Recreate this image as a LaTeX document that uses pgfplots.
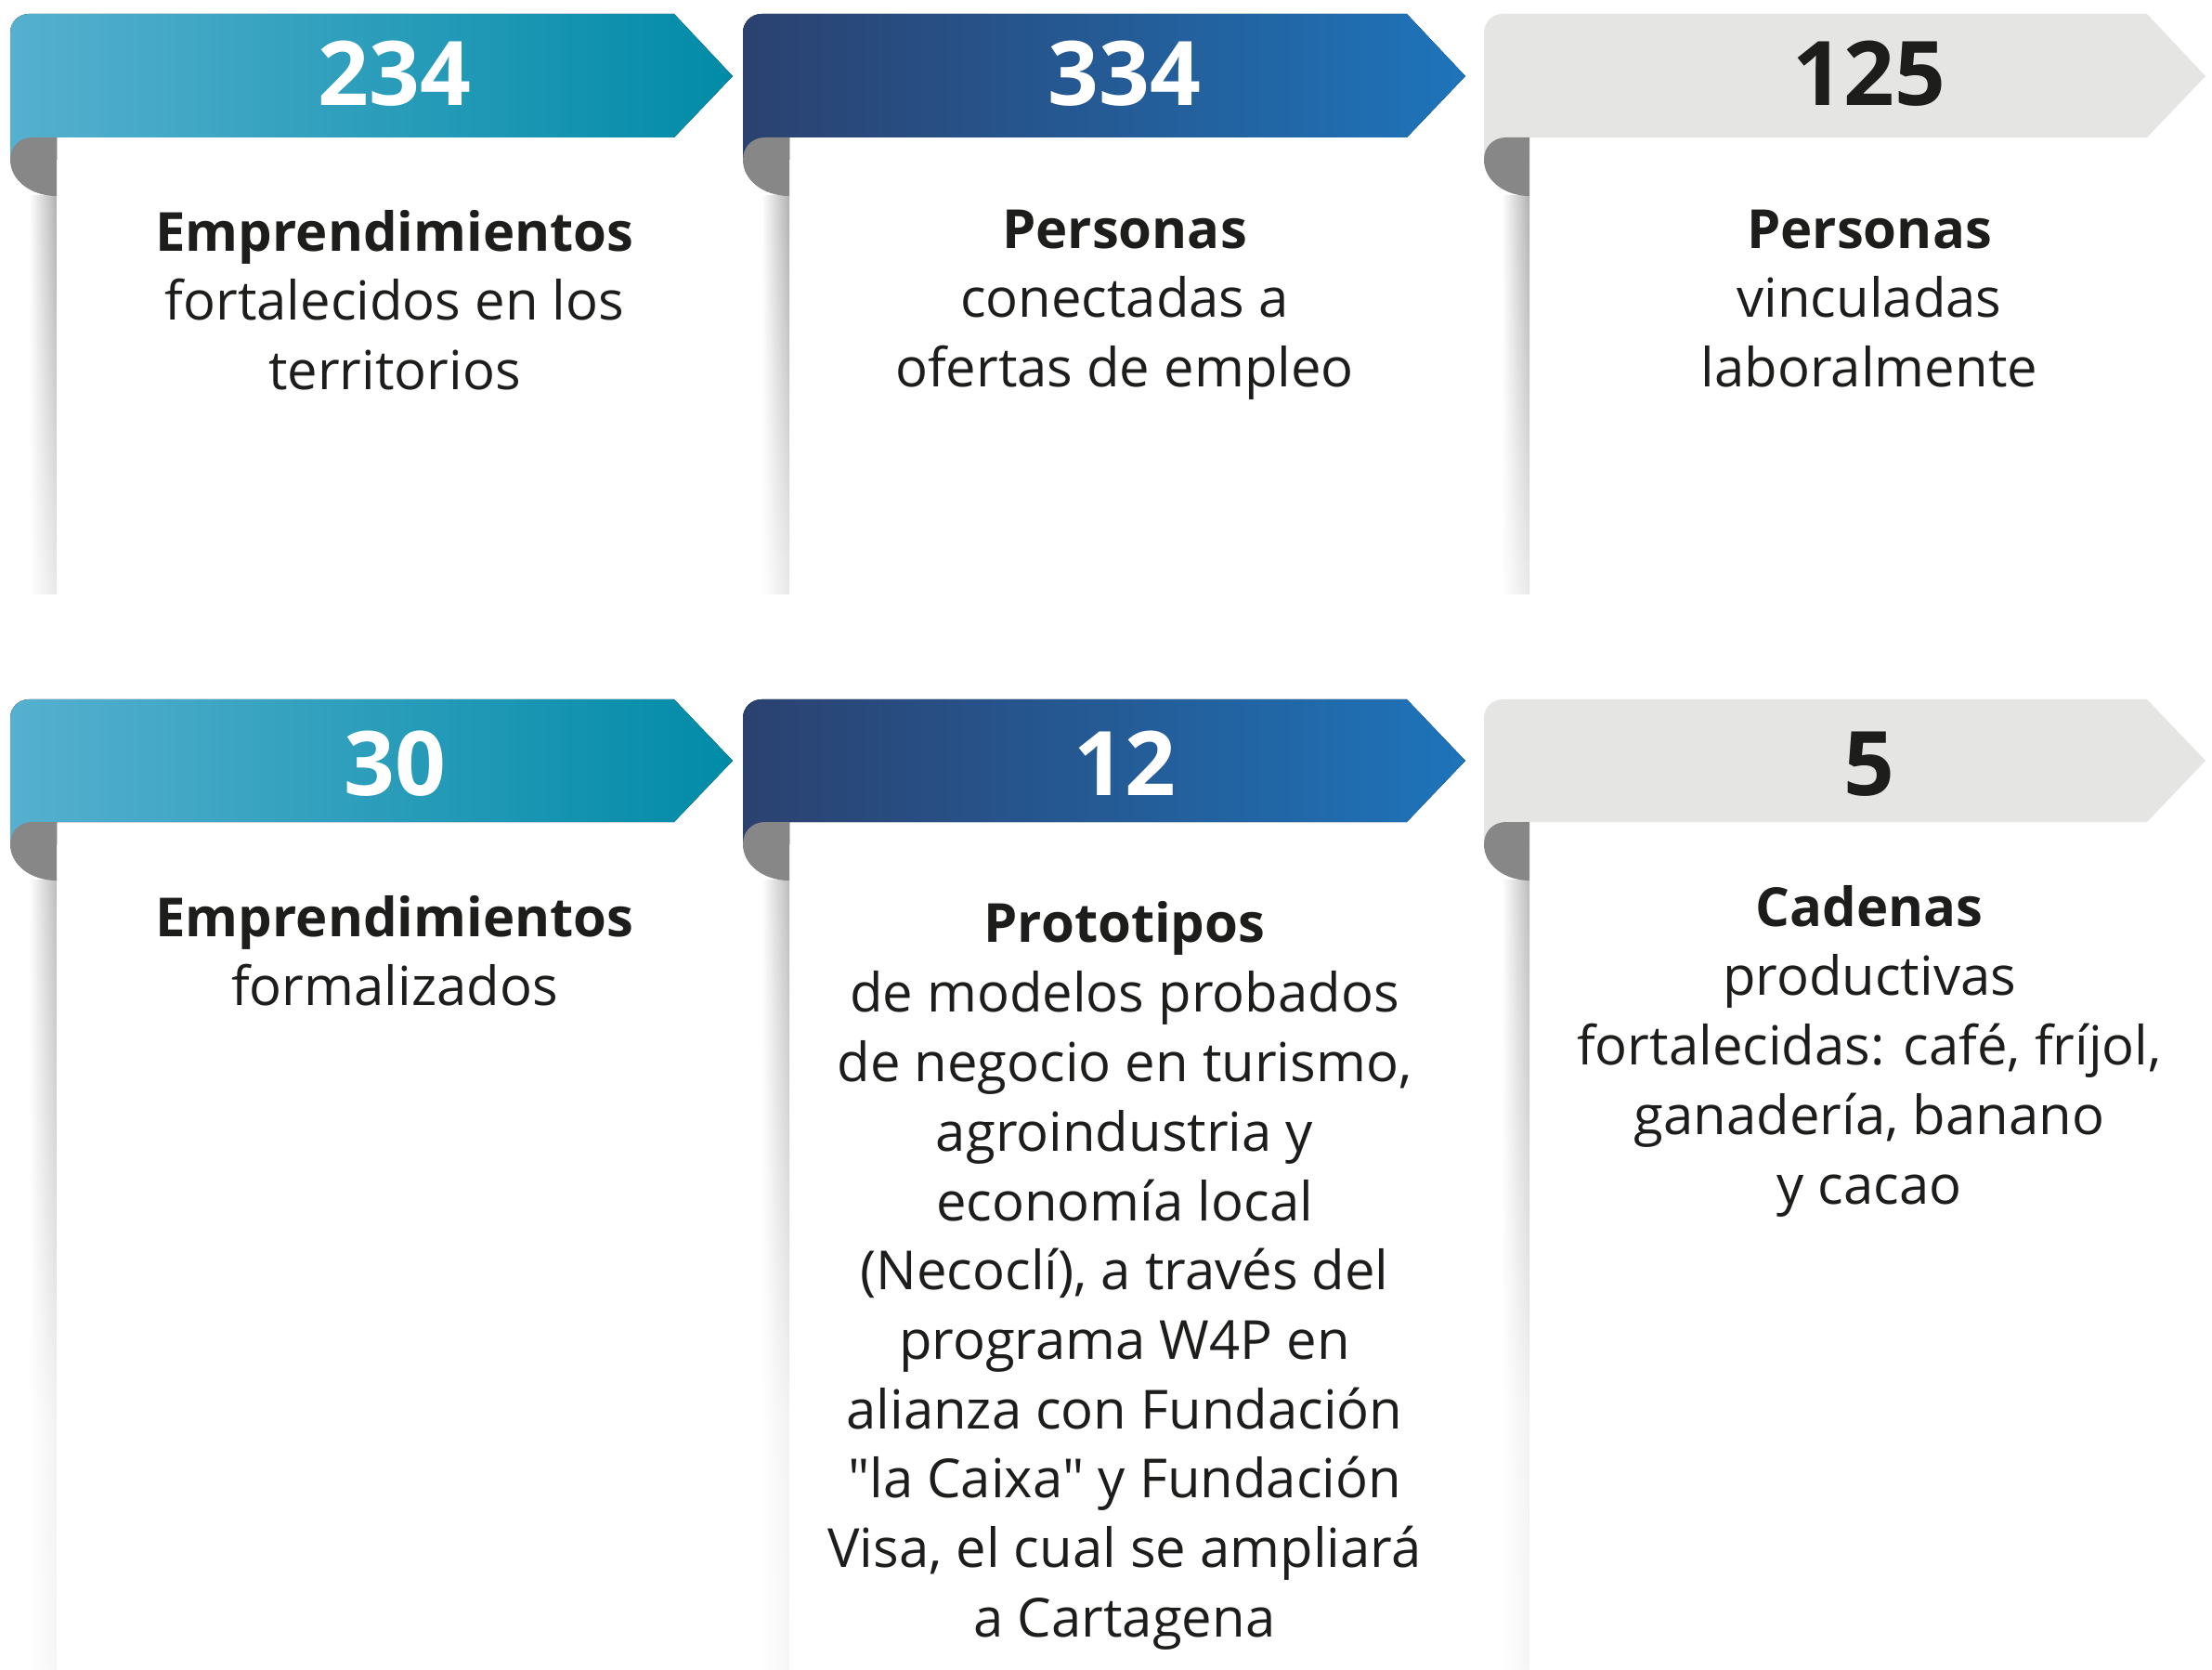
\documentclass[border=0pt]{standalone}
\usepackage{pgfplots}
\pgfplotsset{compat=1.18}
\usepackage{fontspec}
\setmainfont{Open Sans}
\newfontfamily\qfont{Open Sans}[Ligatures=TeXOff]
\usetikzlibrary{fadings}
\definecolor{tealL}{HTML}{56B0CF}
\definecolor{tealR}{HTML}{018BA7}
\definecolor{navyL}{HTML}{2B4170}
\definecolor{navyR}{HTML}{1E74BA}
\definecolor{lgray}{HTML}{E5E5E4}
\definecolor{curlc}{HTML}{878787}
\definecolor{shadowc}{HTML}{5E5E5E}
\definecolor{ink}{HTML}{1D1D1B}
\pgfdeclarehorizontalshading{shdh}{100bp}{color(0bp)=(white); color(30bp)=(white); color(70bp)=(shadowc!45!white); color(100bp)=(shadowc)}
\pgfdeclareverticalshading{fadeAsh}{100bp}{gray(0bp)=(0); gray(10bp)=(0.06); gray(79bp)=(1); gray(100bp)=(0.5)}
\pgfdeclareverticalshading{fadeBsh}{100bp}{gray(0bp)=(0.04); gray(41bp)=(0.15); gray(85bp)=(1); gray(100bp)=(0.5)}
\pgfdeclarefading{fadeA}{\pgfuseshading{fadeAsh}}
\pgfdeclarefading{fadeB}{\pgfuseshading{fadeBsh}}
\newcommand{\numfont}{\fontsize{24}{28}\selectfont\bfseries}
\newcommand{\txtfont}{\fontsize{14.5}{18.7}\selectfont}
\newcommand{\q}{{\qfont"}}
\tikzset{
  txt/.style={anchor=base, inner sep=0pt, font=\txtfont, text=ink},
  b1/.style={left color=tealL, right color=tealR},
  b2/.style={left color=navyL, right color=navyR},
  b3/.style={fill=lgray},
  shdA/.style={shade, shading=shdh, path fading=fadeA},
  shdB/.style={shade, shading=shdh, path fading=fadeB}}
\begin{document}
\begin{tikzpicture}
\begin{axis}[width=595.5pt, height=449.5pt, scale only axis,
  xmin=0, xmax=2382, ymin=0, ymax=1798, y dir=reverse,
  hide axis, clip=false]
\fill[white] (axis cs:0,0) rectangle (axis cs:2382,1798);
% ---------- shadows ----------
\path[shdA] (axis cs:28,211) rectangle (axis cs:61,640);
\path[shdA] (axis cs:817,211) rectangle (axis cs:850,640);
\path[shdA] (axis cs:1614,211) rectangle (axis cs:1647,640);
\path[shdB] (axis cs:28,948) rectangle (axis cs:61,1798);
\path[shdB] (axis cs:817,948) rectangle (axis cs:850,1798);
\path[shdB] (axis cs:1614,948) rectangle (axis cs:1647,1798);
% ---------- row 1 banners ----------
\fill[b1] (axis cs:11,172) [rounded corners=5pt] -- (axis cs:11,15) -- (axis cs:400,15) [sharp corners] -- (axis cs:726,15) -- (axis cs:789,82) -- (axis cs:726,148) -- (axis cs:61,148) -- (axis cs:61,172) -- cycle;
\fill[b2] (axis cs:800,172) [rounded corners=5pt] -- (axis cs:800,15) -- (axis cs:1200,15) [sharp corners] -- (axis cs:1515,15) -- (axis cs:1578,82) -- (axis cs:1515,148) -- (axis cs:850,148) -- (axis cs:850,172) -- cycle;
\fill[b3] (axis cs:1598,172) [rounded corners=5pt] -- (axis cs:1598,15) -- (axis cs:2000,15) [sharp corners] -- (axis cs:2312,15) -- (axis cs:2375,82) -- (axis cs:2312,148) -- (axis cs:1647,148) -- (axis cs:1647,172) -- cycle;
% curls row 1
\fill[curlc] (axis cs:61,148) -- (axis cs:35,148) .. controls (axis cs:21,148) and (axis cs:11,158) .. (axis cs:11,172) .. controls (axis cs:11,194) and (axis cs:33,211) .. (axis cs:61,211) -- cycle;
\fill[curlc] (axis cs:850,148) -- (axis cs:824,148) .. controls (axis cs:810,148) and (axis cs:800,158) .. (axis cs:800,172) .. controls (axis cs:800,194) and (axis cs:822,211) .. (axis cs:850,211) -- cycle;
\fill[curlc] (axis cs:1647,148) -- (axis cs:1622,148) .. controls (axis cs:1608,148) and (axis cs:1598,158) .. (axis cs:1598,172) .. controls (axis cs:1598,194) and (axis cs:1620,211) .. (axis cs:1647,211) -- cycle;
% ---------- row 2 banners ----------
\fill[b1] (axis cs:11,909) [rounded corners=5pt] -- (axis cs:11,753) -- (axis cs:400,753) [sharp corners] -- (axis cs:726,753) -- (axis cs:789,819) -- (axis cs:726,885) -- (axis cs:61,885) -- (axis cs:61,909) -- cycle;
\fill[b2] (axis cs:800,909) [rounded corners=5pt] -- (axis cs:800,753) -- (axis cs:1200,753) [sharp corners] -- (axis cs:1515,753) -- (axis cs:1578,819) -- (axis cs:1515,885) -- (axis cs:850,885) -- (axis cs:850,909) -- cycle;
\fill[b3] (axis cs:1598,909) [rounded corners=5pt] -- (axis cs:1598,753) -- (axis cs:2000,753) [sharp corners] -- (axis cs:2312,753) -- (axis cs:2375,819) -- (axis cs:2312,885) -- (axis cs:1647,885) -- (axis cs:1647,909) -- cycle;
% curls row 2
\fill[curlc] (axis cs:61,885) -- (axis cs:35,885) .. controls (axis cs:21,885) and (axis cs:11,895) .. (axis cs:11,909) .. controls (axis cs:11,931) and (axis cs:33,948) .. (axis cs:61,948) -- cycle;
\fill[curlc] (axis cs:850,885) -- (axis cs:824,885) .. controls (axis cs:810,885) and (axis cs:800,895) .. (axis cs:800,909) .. controls (axis cs:800,931) and (axis cs:822,948) .. (axis cs:850,948) -- cycle;
\fill[curlc] (axis cs:1647,885) -- (axis cs:1622,885) .. controls (axis cs:1608,885) and (axis cs:1598,895) .. (axis cs:1598,909) .. controls (axis cs:1598,931) and (axis cs:1620,948) .. (axis cs:1647,948) -- cycle;
% ---------- numbers ----------
\addplot[draw=none, mark=none, nodes near coords, point meta=explicit symbolic,
  every node near coord/.append style={anchor=base, inner sep=0pt, font=\numfont, text=white}]
  coordinates {(425,114)[234] (1211,114)[334] (425,857)[30] (1211,857)[12]};
\addplot[draw=none, mark=none, nodes near coords, point meta=explicit symbolic,
  every node near coord/.append style={anchor=base, inner sep=0pt, font=\numfont, text=ink}]
  coordinates {(2013,114)[125] (2013,857)[5]};
% ---------- card texts ----------
\node[txt] at (axis cs:425,271) {\bfseries Emprendimientos};
\node[txt] at (axis cs:425,345) {fortalecidos en los};
\node[txt] at (axis cs:425,420) {territorios};
\node[txt] at (axis cs:1211,268) {\bfseries Personas};
\node[txt] at (axis cs:1211,342) {conectadas a};
\node[txt] at (axis cs:1211,417) {ofertas de empleo};
\node[txt] at (axis cs:2013,268) {\bfseries Personas};
\node[txt] at (axis cs:2013,342) {vinculadas};
\node[txt] at (axis cs:2013,417) {laboralmente};
\node[txt] at (axis cs:425,1008) {\bfseries Emprendimientos};
\node[txt] at (axis cs:425,1082) {formalizados};
\node[txt] at (axis cs:1211,1015) {\bfseries Prototipos};
\node[txt] at (axis cs:1211,1090) {de modelos probados};
\node[txt] at (axis cs:1211,1164) {de negocio en turismo,};
\node[txt] at (axis cs:1211,1239) {agroindustria y};
\node[txt] at (axis cs:1211,1314) {economía local};
\node[txt] at (axis cs:1211,1388) {(Necoclí), a través del};
\node[txt] at (axis cs:1211,1463) {programa W4P en};
\node[txt] at (axis cs:1211,1538) {alianza con Fundación};
\node[txt] at (axis cs:1211,1612) {\q la Caixa\q{} y Fundación};
\node[txt] at (axis cs:1211,1687) {Visa, el cual se ampliará};
\node[txt] at (axis cs:1211,1762) {a Cartagena};
\node[txt] at (axis cs:2013,997) {\bfseries Cadenas};
\node[txt] at (axis cs:2013,1071) {productivas};
\node[txt] at (axis cs:2013,1146) {fortalecidas: café, fríjol,};
\node[txt] at (axis cs:2013,1221) {ganadería, banano};
\node[txt] at (axis cs:2013,1296) {y cacao};
\end{axis}
\end{tikzpicture}
\end{document}
